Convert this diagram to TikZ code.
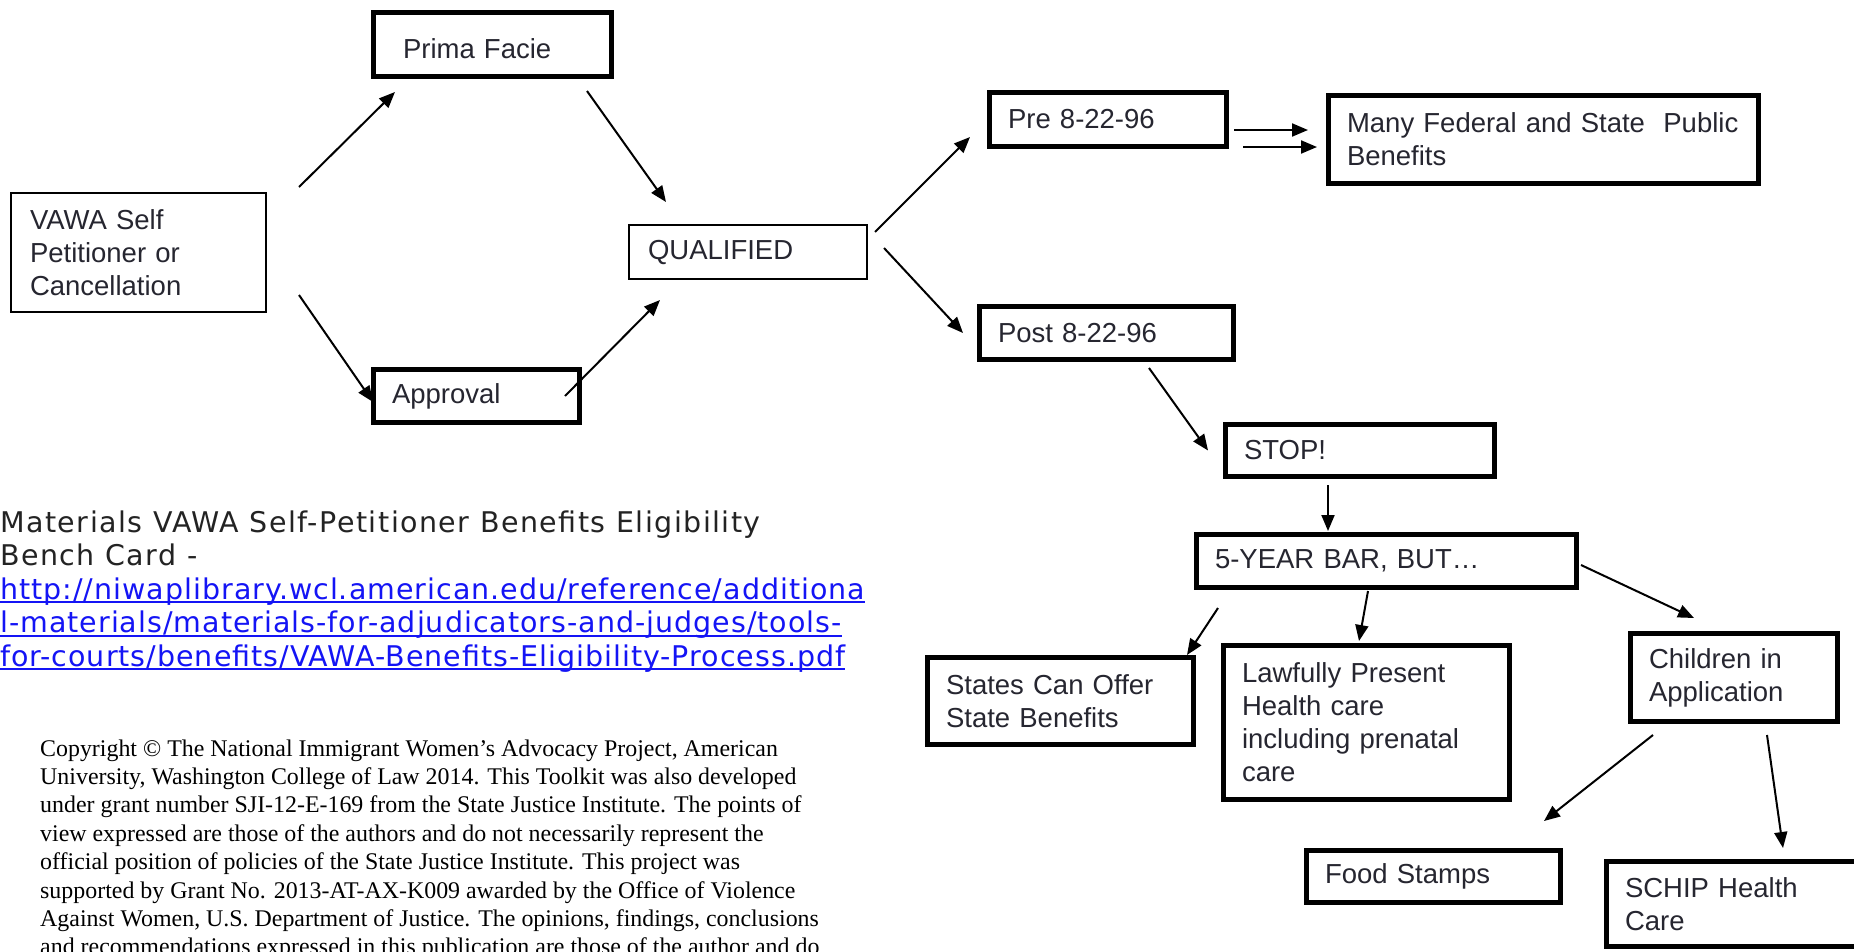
\documentclass[tikz,border=0pt]{standalone}
\usepackage{fontspec}
\setmainfont{Liberation Sans}
\newfontfamily\cardfont[LetterSpace=3.5]{DejaVu Sans}
\newfontfamily\cardheadfont[LetterSpace=5.2]{DejaVu Sans}
\newfontfamily\noticefont{Liberation Serif}
\usetikzlibrary{calc, arrows.meta}
\definecolor{BoxInk}{RGB}{38, 38, 48}
\definecolor{CardGray}{RGB}{35, 35, 35}
\definecolor{LinkBlue}{RGB}{20, 20, 245}
\newcommand{\linkline}[1]{\setbox0\hbox{#1}\rlap{\rule[-4pt]{\wd0}{1.6pt}}\box0}

\begin{document}
\begin{tikzpicture}[x=1pt, y=-1pt,
    thinbox/.style={draw, line width=2pt, inner xsep=19pt, inner ysep=0pt, align=left, text=BoxInk, font=\fontsize{27.5}{33}\selectfont},
    thickbox/.style={thinbox, line width=5pt, inner xsep=18.5pt},
    arr/.style={line width=2pt, -{Triangle[length=16pt, width=13pt]}}]
    \clip (0,0) rectangle (1854,951);
    \fill[white] (0,0) rectangle (1854,951);

    % Peticion y caminos
    \node[thinbox, text width=217pt, minimum height=119pt] (vawa) at (138.5,252.5) {VAWA Self\\Petitioner or\\Cancellation};
    \node[thickbox, inner xsep=29.5pt, text width=179pt, minimum height=64pt, text height=28pt] (prima) at (492.5,44.5) {Prima Facie};
    \node[thickbox, text width=169pt, minimum height=53pt] (approval) at (476.5,396) {Approval};
    \node[thinbox, text width=200pt, minimum height=54pt] (qual) at (748,252) {QUALIFIED};

    \draw[arr] ($(vawa.north east)+(32,-5)$) -- ($(prima.south west)+(24,13)$);
    \draw[arr] ($(prima.south east)+(-27,12)$) -- ($(qual.north west)+(38,-22)$);
    \draw[arr] ($(vawa.south east)+(32,-18)$) -- ($(approval.west)+(2,6)$);
    \draw[arr] ($(approval.east)+(-17,0)$) -- ($(qual.south west)+(32,20)$);

    % Fecha de entrada
    \node[thickbox, text width=200pt, minimum height=54pt] (pre) at (1108,119.5) {Pre 8-22-96};
    \node[thickbox, text width=393pt, minimum height=88pt] (many) at (1543.5,139.5) {Many Federal and State\ \ Public\\Benefits};
    \node[thickbox, text width=217pt, minimum height=53pt] (post) at (1106.5,333) {Post 8-22-96};

    \draw[arr] ($(qual.north east)+(7,8)$) -- ($(pre.south west)+(-17,-12)$);
    \draw[arr] ($(qual.east)+(16,-4)$) -- ($(post.west)+(-14,0)$);
    \draw[arr] ($(pre.east)+(5,10.5)$) -- ($(many.west)+(-18,-9.5)$);
    \draw[arr] ($(pre.south east)+(14,-2)$) -- ($(many.west)+(-9,7.5)$);

    % Barra de cinco anos
    \node[thickbox, text width=232pt, minimum height=52pt] (stop) at (1360,450.5) {STOP!};
    \node[thickbox, text width=343pt, minimum height=53pt] (fivebar) at (1386.5,561) {5-YEAR BAR, BUT…};
    \node[thickbox, text width=229pt, minimum height=87pt] (states) at (1060.5,701) {States Can Offer\\State Benefits};
    \node[thickbox, text width=249pt, minimum height=154pt] (lawful) at (1366.5,722.5) {Lawfully Present\\Health care\\including prenatal\\care};
    \node[thickbox, text width=170pt, minimum height=88pt] (children) at (1734,677.5) {Children in\\Application};
    \node[thickbox, text width=217pt, minimum height=52pt] (food) at (1433.5,876.5) {Food Stamps};
    \node[thickbox, text width=234pt, minimum height=85pt] (schip) at (1742,904) {SCHIP Health\\Care};

    \draw[arr] ($(post.south)+(42.5,6)$) -- ($(stop.west)+(-15,0)$);
    \draw[arr] ($(stop.south)+(-32,6)$) -- ($(fivebar.north)+(-58.5,-1)$);
    \draw[arr] ($(fivebar.south west)+(24,18)$) -- ($(states.north east)+(-9,0)$);
    \draw[arr] ($(fivebar.south)+(-18.5,1)$) -- ($(lawful.north)+(-7.5,-2)$);
    \draw[arr] ($(fivebar.east)+(2,4)$) -- ($(children.north)+(-40,-13)$);
    \draw[arr] ($(children.south west)+(25,11)$) -- ($(food.north east)+(-19,-27)$);
    \draw[arr] ($(children.south)+(33,11)$) -- ($(schip.north)+(41,-11)$);

    % Referencia y aviso (base = ultima linea)
    \node[anchor=base west, inner sep=0pt, align=left, text=CardGray, font=\cardheadfont\fontsize{28.5}{33.5}\selectfont] (cardtitle) at (0,565.5) {Materials VAWA Self-Petitioner Benefits Eligibility\\Bench Card -};
    \node[anchor=base west, inner sep=0pt, align=left, text=LinkBlue, font=\cardfont\fontsize{28.5}{33.5}\selectfont] (cardurl) at (0,666) {\linkline{http://niwaplibrary.wcl.american.edu/reference/additiona}\\\linkline{l-materials/materials-for-adjudicators-and-judges/tools-}\\\linkline{for-courts/benefits/VAWA-Benefits-Eligibility-Process.pdf}};
    \node[anchor=base west, inner sep=0pt, align=left, font=\noticefont\fontsize{23.9}{28.4}\selectfont] (notice) at (40,954.8) {Copyright © The National Immigrant Women’s Advocacy Project, American\\University, Washington College of Law 2014. This Toolkit was also developed\\under grant number SJI-12-E-169 from the State Justice Institute. The points of\\view expressed are those of the authors and do not necessarily represent the\\official position of policies of the State Justice Institute. This project was\\supported by Grant No. 2013-AT-AX-K009 awarded by the Office of Violence\\Against Women, U.S. Department of Justice. The opinions, findings, conclusions\\and recommendations expressed in this publication are those of the author and do};
\end{tikzpicture}
\end{document}
